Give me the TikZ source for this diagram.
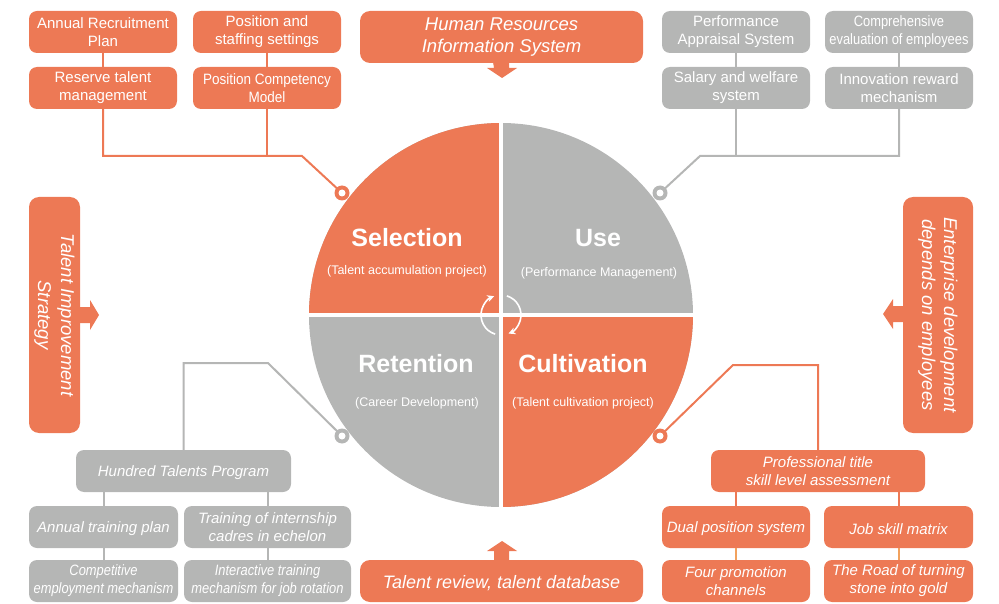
\documentclass[tikz,border=0pt]{standalone}
\usepackage{fontspec}
\setmainfont{Liberation Sans}
\newfontfamily\condA[FakeStretch=0.9]{Liberation Sans}
\newfontfamily\condB[FakeStretch=0.86]{Liberation Sans}
\usetikzlibrary{calc,arrows.meta}
\definecolor{org}{HTML}{ED7955}
\definecolor{gry}{HTML}{B5B6B5}
\definecolor{lorg}{HTML}{F2A25E}
\newcommand{\bxstrut}{\rule{0pt}{1.0em}}
\begin{document}
\begin{tikzpicture}[x=1pt,y=-1pt,
  struts/.style={execute at begin node=\bxstrut},
  box/.style={struts, rounded corners=8pt, text=white, align=center, inner sep=0pt,
    minimum height=42pt, font=\fontsize{15}{18}\selectfont},
  obox/.style={box, fill=org},
  gbox/.style={box, fill=gry},
  itbox/.style={font=\fontsize{15}{18}\selectfont\itshape},
  bigbox/.style={struts, rounded corners=10pt, fill=org, text=white, align=center, inner sep=0pt,
    font=\fontsize{18.5}{22}\selectfont\itshape},
  oline/.style={draw=org, line width=2pt},
  gline/.style={draw=gry, line width=2pt},
  lline/.style={draw=lorg, line width=2pt},
  qtitle/.style={text=white, font=\fontsize{25}{30}\selectfont\bfseries},
  qsub/.style={text=white, font=\fontsize{12.5}{15}\selectfont},
  cyc/.style={draw=white, line width=1.6pt, -{Stealth[length=7pt,width=7pt]}}
]
\useasboundingbox (0,0) rectangle (999,604);

% ---------- central circle ----------
\coordinate (C) at (501,315);
\fill[gry] (C) circle (192);
\begin{scope}
  \clip (300,110) rectangle (501,315);
  \fill[org] (C) circle (192);
\end{scope}
\begin{scope}
  \clip (501,315) rectangle (700,520);
  \fill[org] (C) circle (192);
\end{scope}
\draw[white, line width=4.5pt] (501,118) -- (501,512);
\draw[white, line width=4.5pt] (304,315) -- (698,315);

\node[qtitle] (sel) at (407,238) {Selection};
\node[qsub] (selsub) at (407,271) {(Talent accumulation project)};
\node[qtitle] (use) at (598,238) {Use};
\node[qsub] (usesub) at (599,273) {(Performance Management)};
\node[qtitle] (ret) at (416,364) {Retention};
\node[qsub] (retsub) at (417,403) {(Career Development)};
\node[qtitle] (cul) at (583,364) {Cultivation};
\node[qsub] (culsub) at (583,403) {(Talent cultivation project)};

% cycle arrows
\draw[cyc] ($(C)+(107:20)$) arc[start angle=107, end angle=250, radius=20];
\draw[cyc] ($(C)+(287:20)$) arc[start angle=287, end angle=428, radius=20];

% ---------- top-left ----------
\node[obox, minimum width=148pt] (arp) at (103,32) {Annual Recruitment\\Plan};
\node[obox, minimum width=148pt] (pss) at (267,32) {Position and\\staffing settings};
\node[obox, minimum width=148pt] (rtm) at (103,88) {Reserve talent\\management};
\node[obox, minimum width=148pt, font=\fontsize{15}{18}\condA] (pcm) at (267,88) {Position Competency\\Model};
\coordinate (tlj) at (302,156);
\coordinate (ringTL) at (342,193);
\draw[oline] (arp.south) -- (rtm.north);
\draw[oline] (pss.south) -- (pcm.north);
\draw[oline] (rtm.south) |- (tlj) -- (ringTL);
\draw[oline] (pcm.south) -- (pcm.south |- tlj);

% ---------- top-right ----------
\node[gbox, minimum width=148pt] (pas) at (736,32) {Performance\\Appraisal System};
\node[gbox, minimum width=148pt, font=\fontsize{15}{18}\condB] (cee) at (899,32) {Comprehensive\\evaluation of employees};
\node[gbox, minimum width=148pt] (swf) at (736,88) {Salary and welfare\\system};
\node[gbox, minimum width=148pt] (irm) at (899,88) {Innovation reward\\mechanism};
\coordinate (trj) at (700,156);
\coordinate (ringTR) at (660,193);
\draw[gline] (pas.south) -- (swf.north);
\draw[gline] (cee.south) -- (irm.north);
\draw[gline] (irm.south) |- (trj) -- (ringTR);
\draw[gline] (swf.south) -- (swf.south |- trj);

% ---------- top / bottom banners ----------
\node[bigbox, minimum width=283pt, minimum height=52pt] (hr) at (501.5,37) {Human Resources\\Information System};
\fill[org] (493,62) -- (509,62) -- (509,68) -- (517,68) -- (502,78) -- (487,68) -- (494,68) -- cycle;
\node[bigbox, minimum width=283pt, minimum height=42pt, font=\fontsize{18}{22}\selectfont\itshape] (tr) at (501.5,581) {Talent review, talent database};
\fill[org] (494,561) -- (509,561) -- (509,551) -- (517,551) -- (502,541) -- (487,551) -- (494,551) -- cycle;

% ---------- side banners ----------
\node[bigbox, rotate=-90, minimum width=236pt, minimum height=51pt, font=\fontsize{18.5}{23}\selectfont\itshape] (tis) at (54.5,315) {Talent Improvement\\Strategy};
\fill[org] (79,307) -- (90,307) -- (90,300) -- (99,315) -- (90,330) -- (90,323) -- (79,323) -- cycle;
\node[bigbox, rotate=-90, minimum width=236pt, minimum height=70pt] (edo) at (938,315) {Enterprise development\\depends on employees};
\fill[org] (904,306) -- (893,306) -- (893,299) -- (883,314) -- (893,329) -- (893,322) -- (904,322) -- cycle;

% ---------- bottom-left ----------
\node[gbox, itbox, minimum width=215pt] (htp) at (183.5,471) {Hundred Talents Program};
\node[gbox, itbox, minimum width=149pt] (atp) at (103.5,527) {Annual training plan};
\node[gbox, itbox, minimum width=167pt] (tic) at (267.5,527) {Training of internship\\cadres in echelon};
\node[gbox, minimum width=149pt, font=\fontsize{15}{18}\condB\itshape] (cem) at (103.5,581) {Competitive\\employment mechanism};
\node[gbox, minimum width=167pt, font=\fontsize{15}{18}\condB\itshape] (itm) at (267.5,581) {Interactive training\\mechanism for job rotation};
\coordinate (blj) at (268,363);
\coordinate (ringBL) at (342,436);
\draw[gline] (ringBL) -- (blj) -| (htp.north);
\draw[gline] (atp.north) -- (atp.north |- htp.south);
\draw[gline] (tic.north) -- (tic.north |- htp.south);
\draw[gline] (atp.south) -- (cem.north);
\draw[gline] (tic.south) -- (itm.north);

% ---------- bottom-right ----------
\node[obox, itbox, minimum width=214pt] (pts) at (818,471) {Professional title\\skill level assessment};
\node[obox, itbox, minimum width=148pt] (dps) at (736,527) {Dual position system};
\node[obox, itbox, minimum width=149pt] (jsm) at (898.5,527) {Job skill matrix};
\node[obox, itbox, minimum width=148pt] (fpc) at (736,581) {Four promotion\\channels};
\node[obox, itbox, minimum width=149pt] (rts) at (898.5,581) {The Road of turning\\stone into gold};
\coordinate (brj) at (733,365);
\coordinate (ringBR) at (660,436);
\draw[oline] (ringBR) -- (brj) -| (pts.north);
\draw[oline] (dps.north) -- (dps.north |- pts.south);
\draw[oline] (jsm.north) -- (jsm.north |- pts.south);
\draw[lline] (dps.south) -- (fpc.north);
\draw[lline] (jsm.south) -- (rts.north);

% ---------- ring markers ----------
\foreach \p/\c in {ringTL/org, ringTR/gry, ringBL/gry, ringBR/org}{
  \fill[\c] (\p) circle (7.5);
  \fill[white] (\p) circle (3.5);
}
\end{tikzpicture}
\end{document}
